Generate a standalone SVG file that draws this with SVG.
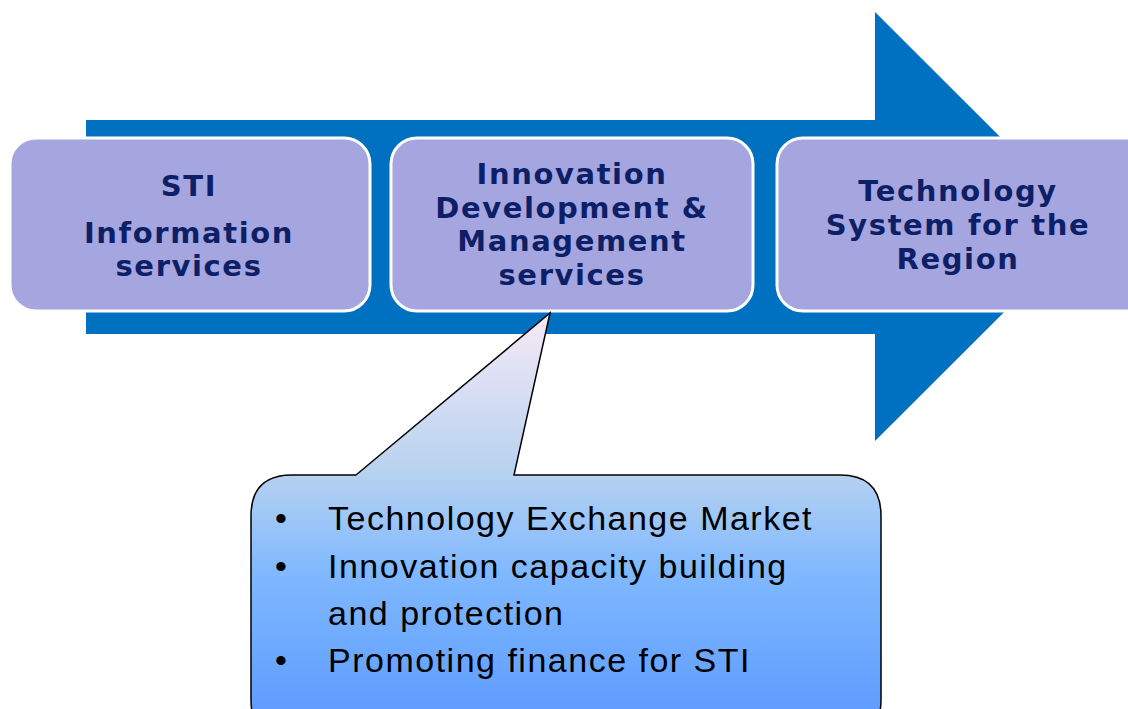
<svg xmlns="http://www.w3.org/2000/svg" width="1128" height="709" viewBox="0 0 1128 709">
<style>
.box{fill:#A5A5DF;stroke:#FFFFFF;stroke-width:3}
.bt{font-family:"DejaVu Sans",Verdana,sans-serif;font-weight:bold;font-size:29px;fill:#0D1F66;text-anchor:middle;letter-spacing:1.6px}
.ct{font-family:"Liberation Sans",Arial,sans-serif;font-size:34px;fill:#000000;letter-spacing:1.5px}
</style>
<defs>
<linearGradient id="cg" gradientUnits="userSpaceOnUse" x1="0" y1="313" x2="0" y2="709">
<stop offset="0" stop-color="#F6EAF6"/>
<stop offset="0.4" stop-color="#B8D2F0"/>
<stop offset="0.65" stop-color="#80B9FF"/>
<stop offset="1" stop-color="#5F9DFF"/>
</linearGradient>
</defs>
<g id="arrow">
<path d="M86,120 H875 V12 L1090,226.5 L875,441 V334 H86 Z" fill="#0070C0"/>
</g>
<g id="node-sti">
<rect class="box" x="10" y="138" width="360" height="173" rx="26"/>
<text class="bt" x="189" y="196">STI</text>
<text class="bt" x="189" y="243">Information</text>
<text class="bt" x="189" y="276">services</text>
</g>
<g id="node-innovation">
<rect class="box" x="391" y="138" width="362" height="173" rx="26"/>
<text class="bt" x="572" y="184">Innovation</text>
<text class="bt" x="572" y="218">Development &amp;</text>
<text class="bt" x="572" y="251">Management</text>
<text class="bt" x="572" y="285">services</text>
</g>
<g id="node-technology">
<rect class="box" x="777" y="138" width="380" height="173" rx="26"/>
<text class="bt" x="958" y="201">Technology</text>
<text class="bt" x="958" y="235">System for the</text>
<text class="bt" x="958" y="269">Region</text>
</g>
<g id="callout">
<path d="M356,475 L550,313 L514,475 H840 Q881,475 881,516 V700 Q881,740 840,740 H292 Q251,740 251,700 V516 Q251,475 292,475 Z" fill="url(#cg)" stroke="#000000" stroke-width="1.5"/>
<text class="ct" x="275" y="530">•</text>
<text class="ct" x="328" y="530">Technology Exchange Market</text>
<text class="ct" x="275" y="578">•</text>
<text class="ct" x="328" y="578">Innovation capacity building</text>
<text class="ct" x="328" y="625">and protection</text>
<text class="ct" x="275" y="672">•</text>
<text class="ct" x="328" y="672">Promoting finance for STI</text>
</g>
</svg>
